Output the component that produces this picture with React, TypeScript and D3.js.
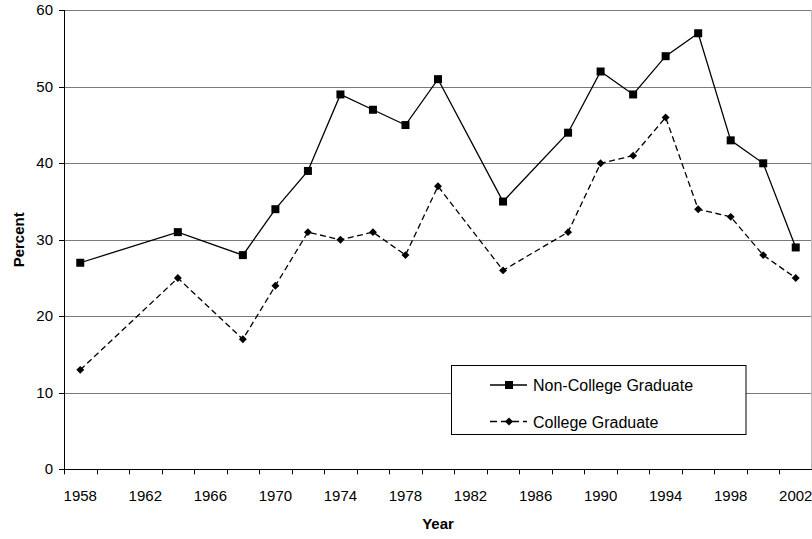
import { useEffect, useRef } from "react";
import * as d3 from "d3";

const years = [1958, 1964, 1968, 1970, 1972, 1974, 1976, 1978, 1980, 1984, 1988, 1990, 1992, 1994, 1996, 1998, 2000, 2002];
const nonCollege = [27, 31, 28, 34, 39, 49, 47, 45, 51, 35, 44, 52, 49, 54, 57, 43, 40, 29];
const college = [13, 25, 17, 24, 31, 30, 31, 28, 37, 26, 31, 40, 41, 46, 34, 33, 28, 25];
const yTicks = [0, 10, 20, 30, 40, 50, 60];
const xLabels = [1958, 1962, 1966, 1970, 1974, 1978, 1982, 1986, 1990, 1994, 1998, 2002];

export default function App() {
  const svgRef = useRef<SVGSVGElement>(null);

  useEffect(() => {
    if (!svgRef.current) return;
    const svg = d3.select(svgRef.current);
    svg.selectAll("*").remove();

    const left = 64, right = 811.5, top = 10.3, bottom = 469.3;
    const font = "Arial, 'Liberation Sans', sans-serif";

    const x = d3.scaleLinear().domain([1957, 2003]).range([left, 812]);
    const y = d3.scaleLinear().domain([0, 60]).range([bottom, top]);

    // gridlines
    svg.append("g")
      .selectAll("line")
      .data(yTicks.filter((d) => d > 0))
      .enter()
      .append("line")
      .attr("x1", left)
      .attr("x2", right)
      .attr("y1", (d) => Math.round(y(d)) + 0.5)
      .attr("y2", (d) => Math.round(y(d)) + 0.5)
      .attr("stroke", "#7a7a7a")
      .attr("stroke-width", 1);

    // right border
    svg.append("line")
      .attr("x1", right).attr("x2", right)
      .attr("y1", Math.round(top) + 0.5).attr("y2", bottom)
      .attr("stroke", "#bbb");

    // y axis
    svg.append("line")
      .attr("x1", left + 0.5).attr("x2", left + 0.5)
      .attr("y1", Math.round(top)).attr("y2", Math.round(bottom) + 0.5)
      .attr("stroke", "#000");
    svg.append("g")
      .selectAll("line")
      .data(yTicks)
      .enter()
      .append("line")
      .attr("x1", left - 5)
      .attr("x2", left)
      .attr("y1", (d) => Math.round(y(d)) + 0.5)
      .attr("y2", (d) => Math.round(y(d)) + 0.5)
      .attr("stroke", "#000");
    svg.append("g")
      .selectAll("text")
      .data(yTicks)
      .enter()
      .append("text")
      .attr("x", 53)
      .attr("y", (d) => y(d) + 5)
      .attr("text-anchor", "end")
      .style("font-family", font)
      .style("font-size", "15px")
      .text((d) => d);

    // x axis
    svg.append("line")
      .attr("x1", left).attr("x2", 812)
      .attr("y1", Math.round(bottom) + 0.5).attr("y2", Math.round(bottom) + 0.5)
      .attr("stroke", "#000");
    svg.append("g")
      .selectAll("line")
      .data(d3.range(1957, 2004, 2))
      .enter()
      .append("line")
      .attr("x1", (d) => Math.round(x(d)) + 0.5)
      .attr("x2", (d) => Math.round(x(d)) + 0.5)
      .attr("y1", bottom)
      .attr("y2", bottom + 5)
      .attr("stroke", "#000");
    svg.append("g")
      .selectAll("text")
      .data(xLabels)
      .enter()
      .append("text")
      .attr("x", (d) => x(d))
      .attr("y", 500.5)
      .attr("text-anchor", "middle")
      .style("font-family", font)
      .style("font-size", "15px")
      .text((d) => d);

    // axis titles
    svg.append("text")
      .attr("x", (left + 812) / 2)
      .attr("y", 529)
      .attr("text-anchor", "middle")
      .style("font-family", font)
      .style("font-size", "15px")
      .style("font-weight", "bold")
      .text("Year");
    svg.append("text")
      .attr("transform", `translate(23.5, ${(top + bottom) / 2}) rotate(-90)`)
      .attr("text-anchor", "middle")
      .style("font-family", font)
      .style("font-size", "15px")
      .style("font-weight", "bold")
      .text("Percent");

    const line = d3.line<number>()
      .x((_, i) => x(years[i]))
      .y((d) => y(d));

    // college graduate (dashed, diamonds)
    svg.append("path")
      .datum(college)
      .attr("d", line)
      .attr("fill", "none")
      .attr("stroke", "#000")
      .attr("stroke-width", 1.3)
      .attr("stroke-dasharray", "6,3.5");
    const diamond = d3.symbol().type(d3.symbolDiamond2).size(40);
    svg.append("g")
      .selectAll("path")
      .data(college)
      .enter()
      .append("path")
      .attr("d", diamond)
      .attr("transform", (d, i) => `translate(${x(years[i])},${y(d)})`)
      .attr("fill", "#000");

    // non-college graduate (solid, squares)
    svg.append("path")
      .datum(nonCollege)
      .attr("d", line)
      .attr("fill", "none")
      .attr("stroke", "#000")
      .attr("stroke-width", 1.3);
    svg.append("g")
      .selectAll("rect")
      .data(nonCollege)
      .enter()
      .append("rect")
      .attr("x", (_, i) => x(years[i]) - 4)
      .attr("y", (d) => y(d) - 4)
      .attr("width", 8)
      .attr("height", 8)
      .attr("fill", "#000");

    // legend
    const lg = svg.append("g");
    lg.append("rect")
      .attr("x", 451.5).attr("y", 365.5)
      .attr("width", 294.5).attr("height", 69)
      .attr("fill", "#fff")
      .attr("stroke", "#000");
    const rows = [
      { label: "Non-College Graduate", dash: null, cy: 385 },
      { label: "College Graduate", dash: "7,4", cy: 421.5 },
    ];
    rows.forEach((r, i) => {
      lg.append("line")
        .attr("x1", 490).attr("x2", 527)
        .attr("y1", r.cy).attr("y2", r.cy)
        .attr("stroke", "#000")
        .attr("stroke-width", 1.3)
        .attr("stroke-dasharray", r.dash);
      if (i === 0) {
        lg.append("rect")
          .attr("x", 505).attr("y", r.cy - 4)
          .attr("width", 8).attr("height", 8)
          .attr("fill", "#000");
      } else {
        lg.append("path")
          .attr("d", diamond)
          .attr("transform", `translate(509,${r.cy})`)
          .attr("fill", "#000");
      }
      lg.append("text")
        .attr("x", 533)
        .attr("y", r.cy + 6)
        .style("font-family", font)
        .style("font-size", "16px")
        .text(r.label);
    });
  }, []);

  return (
    <svg
      ref={svgRef}
      width={812}
      height={539}
      style={{ position: "absolute", left: 0, top: 0, background: "#fff" }}
    />
  );
}
